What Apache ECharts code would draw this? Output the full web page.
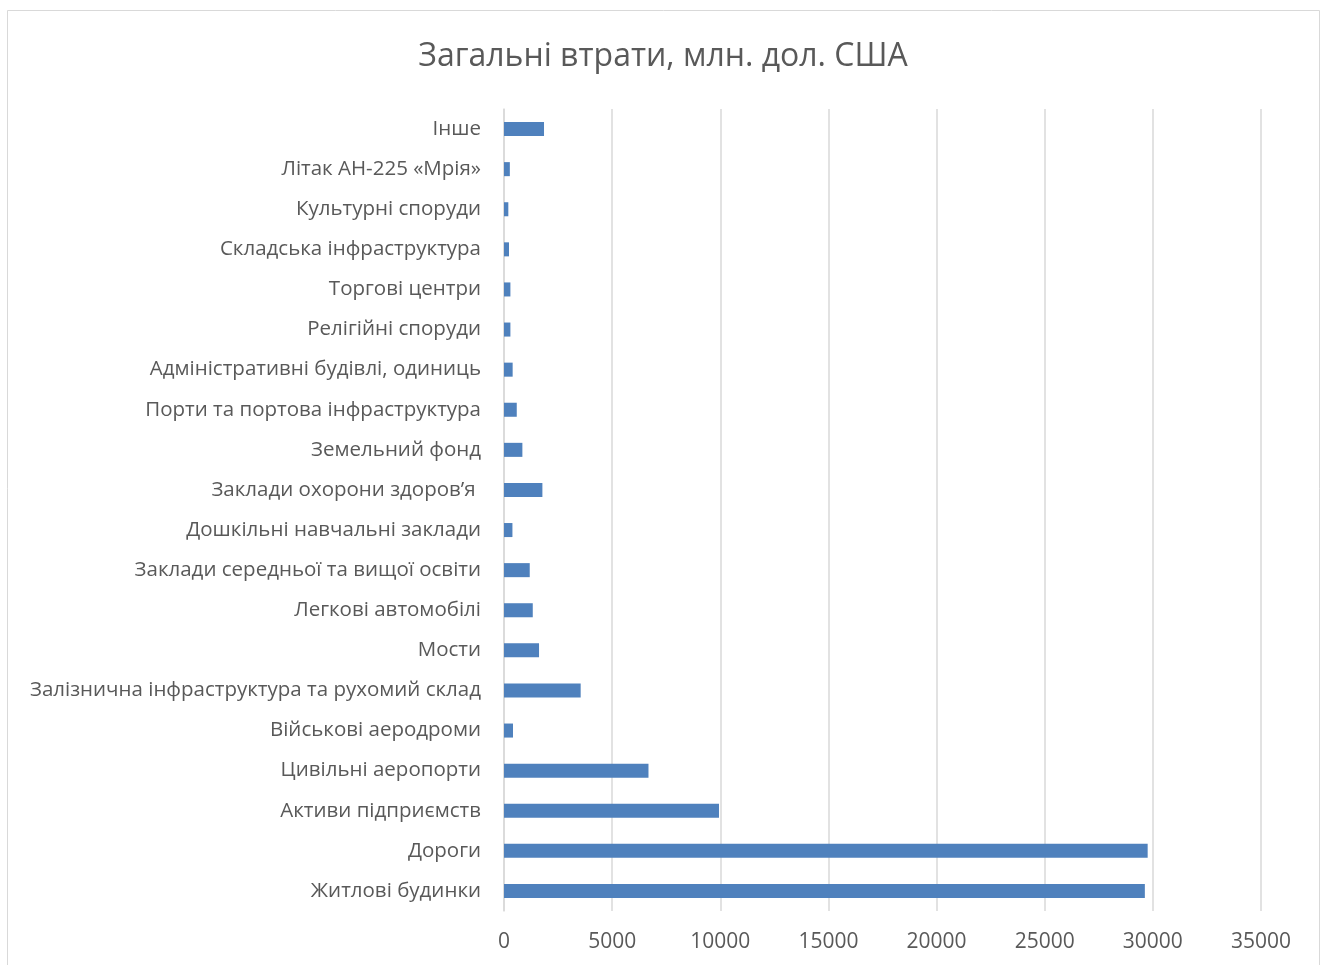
<!DOCTYPE html>
<html>
<head>
    <meta charset="utf-8">
    <title>Загальні втрати</title>
    <script src="https://cdn.jsdelivr.net/npm/echarts@6/dist/echarts.min.js"></script>
    <style>
        html, body { margin: 0; padding: 0; background: #fff; }
    </style>
</head>
<body>
    <div id="main" style="width: 1326px;height:965px;"></div>
    <script type="text/javascript">
        // категорії знизу вгору (як на осі)
        var categories = [
            "Житлові будинки",
            "Дороги",
            "Активи підприємств",
            "Цивільні аеропорти",
            "Військові аеродроми",
            "Залізнична інфраструктура та рухомий склад",
            "Мости",
            "Легкові автомобілі",
            "Заклади середньої та вищої освіти",
            "Дошкільні навчальні заклади",
            "Заклади охорони здоров’я ",
            "Земельний фонд",
            "Порти та портова інфраструктура",
            "Адміністративні будівлі, одиниць",
            "Релігійні споруди",
            "Торгові центри",
            "Складська інфраструктура",
            "Культурні споруди",
            "Літак АН-225 «Мрія»",
            "Інше"
        ];
        var losses = [29630, 29760, 9940, 6680, 415, 3545, 1620, 1330, 1190, 390,
                      1775, 850, 590, 400, 296, 296, 230, 200, 270, 1850];

        var myChart = echarts.init(document.getElementById('main'));

        var option = {
            backgroundColor: "#fff",
            animation: false,
            title: {
                text: "Загальні втрати, млн. дол. США",
                left: "center",
                top: 36,
                textStyle: {
                    fontFamily: "Open Sans",
                    fontWeight: 400,
                    fontSize: 32,
                    color: "#595959"
                }
            },
            graphic: [{
                type: "rect",
                shape: { x: 7.5, y: 10.5, width: 1312, height: 980 },
                style: { fill: null, stroke: "#d9d9d9", lineWidth: 1 },
                silent: true
            }],
            grid: {
                left: 504,
                right: 65,
                top: 109,
                bottom: 54,
                containLabel: false
            },
            xAxis: {
                type: "value",
                min: 0,
                max: 35000,
                interval: 5000,
                axisLine: { show: false },
                axisTick: { show: false },
                splitLine: { lineStyle: { color: "#d9d9d9", width: 1.5 } },
                axisLabel: {
                    margin: 21,
                    fontFamily: "Open Sans",
                    fontSize: 21,
                    color: "#595959",
                    formatter: function (v) { return String(v); }
                }
            },
            yAxis: {
                type: "category",
                data: categories,
                axisLine: { lineStyle: { color: "#d9d9d9", width: 1.5 } },
                axisTick: { show: false },
                axisLabel: {
                    margin: 23,
                    fontFamily: "Open Sans",
                    fontSize: 20.5,
                    color: "#595959"
                }
            },
            series: [{
                type: "bar",
                data: losses,
                barWidth: "35%",
                itemStyle: { color: "#4f81bd" }
            }]
        };

        myChart.setOption(option);
    </script>
</body>
</html>
